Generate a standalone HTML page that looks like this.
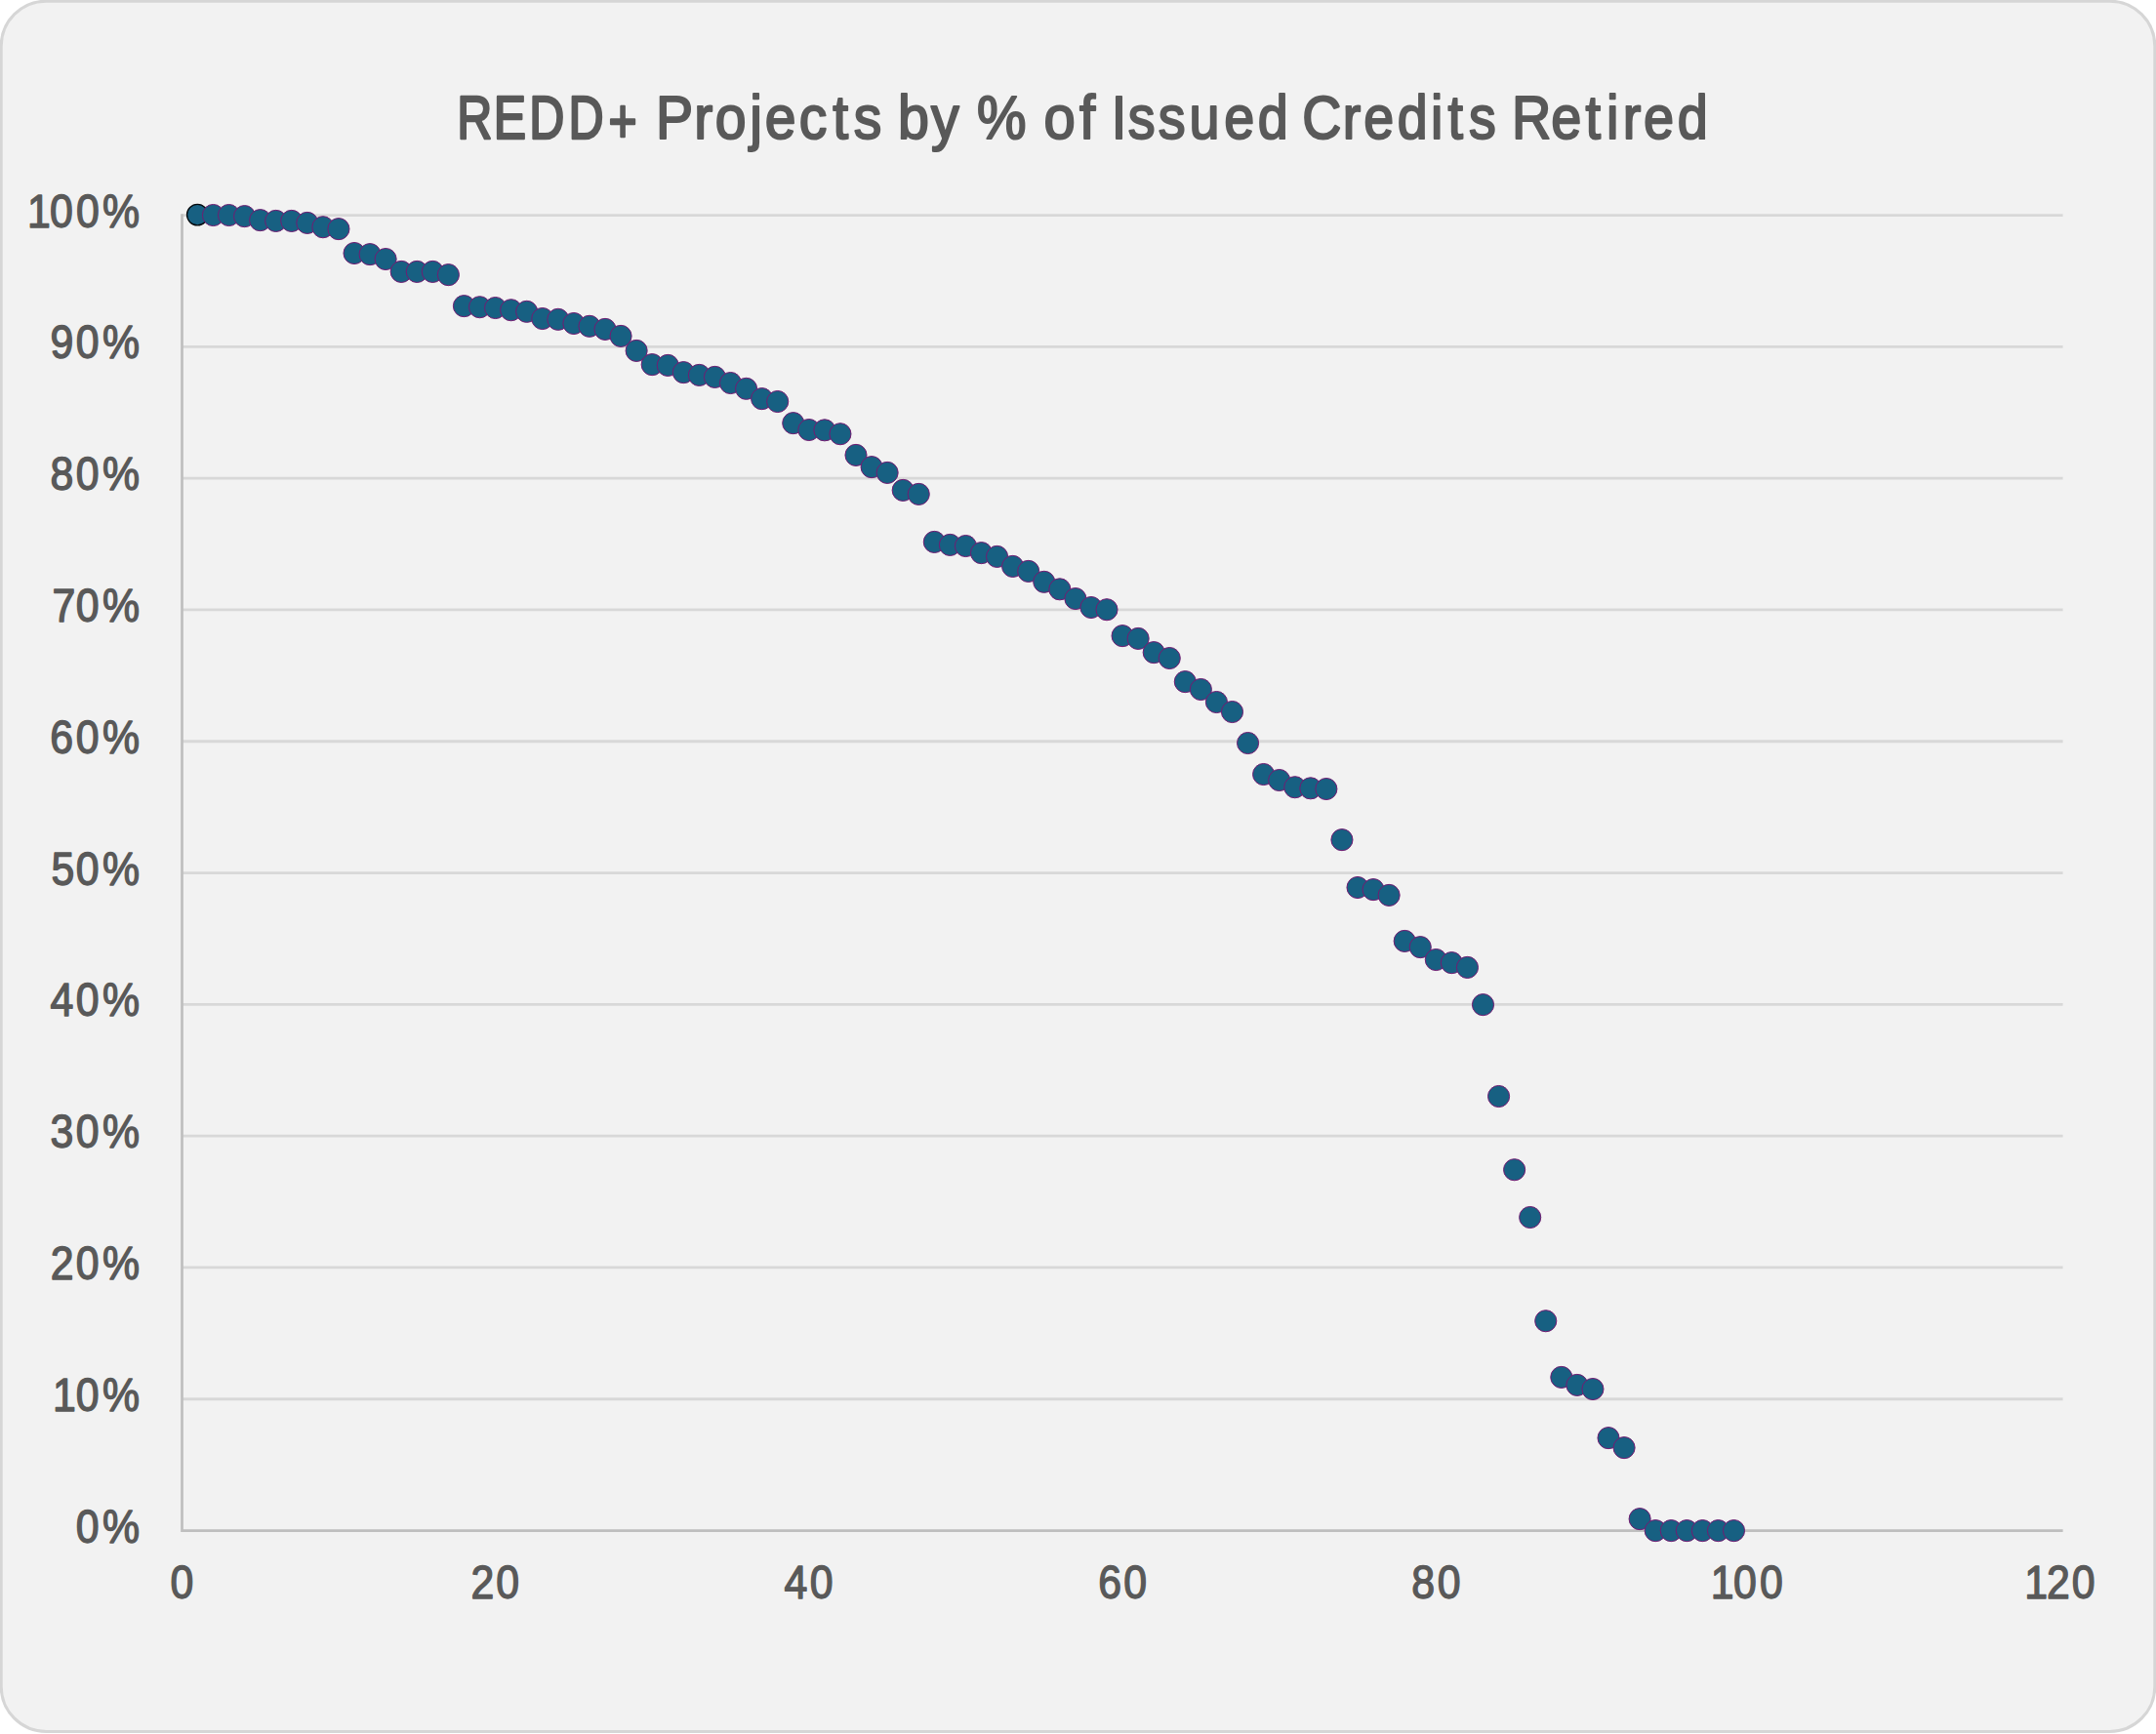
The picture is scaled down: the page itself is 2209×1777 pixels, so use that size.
<!DOCTYPE html>
<html lang="en"><head><meta charset="utf-8"><title>REDD+ Projects by % of Issued Credits Retired</title>
<style>
html,body{margin:0;padding:0;background:#fff;}
body{width:2209px;height:1777px;overflow:hidden;}
svg{display:block;}
text{font-family:"Liberation Sans",Arial,sans-serif;fill:#595959;stroke:#595959;stroke-linejoin:round;font-kerning:none;}
</style></head><body>
<svg width="2209" height="1777" viewBox="0 0 2209 1777">
<rect x="1.2" y="1.2" width="2206.6" height="1773.2" rx="46" ry="46" fill="#f2f2f2" stroke="#d6d6d6" stroke-width="3"/>

<g stroke="#d8d8d8" stroke-width="2.8" fill="none">
<line x1="186.5" y1="220.55" x2="2113.6" y2="220.55"/>
<line x1="186.5" y1="355.35" x2="2113.6" y2="355.35"/>
<line x1="186.5" y1="490.15" x2="2113.6" y2="490.15"/>
<line x1="186.5" y1="624.95" x2="2113.6" y2="624.95"/>
<line x1="186.5" y1="759.75" x2="2113.6" y2="759.75"/>
<line x1="186.5" y1="894.55" x2="2113.6" y2="894.55"/>
<line x1="186.5" y1="1029.35" x2="2113.6" y2="1029.35"/>
<line x1="186.5" y1="1164.15" x2="2113.6" y2="1164.15"/>
<line x1="186.5" y1="1298.95" x2="2113.6" y2="1298.95"/>
<line x1="186.5" y1="1433.75" x2="2113.6" y2="1433.75"/>
</g>
<g stroke="#bfbfbf" stroke-width="2.7" fill="none"><path d="M186.5 219.25V1568.55H2113.6"/></g>
<g>
<text transform="scale(0.8 1)" x="585.29 632.16 677.78 728.03 779.48" y="141.65 141.65 141.65 141.65 146.35" font-size="62.4" stroke-width="2.5">REDD+</text>
<text transform="scale(0.915 1)" x="734.56 777.29 800.84 839.65 856.64 894.88 932.56 955.97" y="141.65" font-size="62.4" stroke-width="2.1">Projects</text>
<text transform="scale(0.92 1)" x="999.88 1037.05" y="141.65" font-size="62.4" stroke-width="2.1">by</text>
<text transform="scale(0.91 1)" x="1100.12" y="141.65" font-size="62.4" stroke-width="2.1">%</text>
<text transform="scale(0.93 1)" x="1150.12 1189.23" y="141.65" font-size="62.4" stroke-width="2.1">of</text>
<text transform="scale(0.893 1)" x="1275.26 1294.23 1329.06 1364.38 1404.60 1443.26" y="141.65" font-size="62.4" stroke-width="2.1">Issued</text>
<text transform="scale(0.89 1)" x="1499.21 1545.75 1570.01 1608.80 1647.13 1666.82 1690.95" y="141.65" font-size="62.4" stroke-width="2.1">Credits</text>
<text transform="scale(0.895 1)" x="1730.77 1775.67 1815.00 1839.23 1857.72 1881.70 1920.39" y="141.65" font-size="62.4" stroke-width="2.1">Retired</text>
</g>
<g>
<text transform="scale(0.905 1)" x="30.90 56.41 86.13 115.93" y="232.55" font-size="47.3" stroke-width="1.4">100%</text>
<text transform="scale(0.905 1)" x="56.86 85.85 115.93" y="367.35" font-size="47.3" stroke-width="1.4">90%</text>
<text transform="scale(0.905 1)" x="56.85 85.85 115.93" y="502.15" font-size="47.3" stroke-width="1.4">80%</text>
<text transform="scale(0.905 1)" x="59.03 85.85 115.93" y="636.95" font-size="47.3" stroke-width="1.4">70%</text>
<text transform="scale(0.905 1)" x="56.69 85.85 115.93" y="771.75" font-size="47.3" stroke-width="1.4">60%</text>
<text transform="scale(0.905 1)" x="58.00 85.85 115.93" y="906.55" font-size="47.3" stroke-width="1.4">50%</text>
<text transform="scale(0.905 1)" x="57.00 85.85 115.93" y="1041.35" font-size="47.3" stroke-width="1.4">40%</text>
<text transform="scale(0.905 1)" x="56.99 85.85 115.93" y="1176.15" font-size="47.3" stroke-width="1.4">30%</text>
<text transform="scale(0.905 1)" x="57.12 85.85 115.93" y="1310.95" font-size="47.3" stroke-width="1.4">20%</text>
<text transform="scale(0.905 1)" x="59.79 85.85 115.93" y="1445.75" font-size="47.3" stroke-width="1.4">10%</text>
<text transform="scale(0.905 1)" x="85.85 115.93" y="1580.55" font-size="47.3" stroke-width="1.4">0%</text>
</g>
<g>
<text transform="scale(0.905 1)" x="192.92" y="1638.00" font-size="47.3" stroke-width="1.4">0</text>
<text transform="scale(0.905 1)" x="533.26 561.60" y="1638.00" font-size="47.3" stroke-width="1.4">20</text>
<text transform="scale(0.905 1)" x="887.94 916.74" y="1638.00" font-size="47.3" stroke-width="1.4">40</text>
<text transform="scale(0.905 1)" x="1243.26 1272.07" y="1638.00" font-size="47.3" stroke-width="1.4">60</text>
<text transform="scale(0.905 1)" x="1598.17 1627.23" y="1638.00" font-size="47.3" stroke-width="1.4">80</text>
<text transform="scale(0.905 1)" x="1936.86 1962.37 1992.21" y="1638.00" font-size="47.3" stroke-width="1.4">100</text>
<text transform="scale(0.905 1)" x="2291.89 2317.23 2345.69" y="1638.00" font-size="47.3" stroke-width="1.4">120</text>
</g>
<g fill="#176082" stroke="#741b72" stroke-width="1">
<circle cx="202.28" cy="220.12" r="10.75" stroke="#05090c" stroke-width="1.3"/>
<circle cx="218.44" cy="220.52" r="11.05"/>
<circle cx="234.51" cy="220.52" r="11.05"/>
<circle cx="250.57" cy="221.62" r="11.05"/>
<circle cx="266.63" cy="225.62" r="11.05"/>
<circle cx="282.69" cy="226.42" r="11.05"/>
<circle cx="298.76" cy="226.42" r="11.05"/>
<circle cx="314.82" cy="228.42" r="11.05"/>
<circle cx="330.88" cy="232.72" r="11.05"/>
<circle cx="346.94" cy="234.62" r="11.05"/>
<circle cx="363.01" cy="259.52" r="11.05"/>
<circle cx="379.07" cy="260.62" r="11.05"/>
<circle cx="395.13" cy="265.52" r="11.05"/>
<circle cx="411.19" cy="278.42" r="11.05"/>
<circle cx="427.26" cy="278.42" r="11.05"/>
<circle cx="443.32" cy="278.42" r="11.05"/>
<circle cx="459.38" cy="281.62" r="11.05"/>
<circle cx="475.44" cy="313.62" r="11.05"/>
<circle cx="491.51" cy="314.72" r="11.05"/>
<circle cx="507.57" cy="315.52" r="11.05"/>
<circle cx="523.63" cy="317.72" r="11.05"/>
<circle cx="539.69" cy="319.32" r="11.05"/>
<circle cx="555.76" cy="326.52" r="11.05"/>
<circle cx="571.82" cy="327.32" r="11.05"/>
<circle cx="587.88" cy="331.52" r="11.05"/>
<circle cx="603.94" cy="334.32" r="11.05"/>
<circle cx="620.00" cy="337.42" r="11.05"/>
<circle cx="636.07" cy="344.42" r="11.05"/>
<circle cx="652.13" cy="359.42" r="11.05"/>
<circle cx="668.19" cy="373.62" r="11.05"/>
<circle cx="684.25" cy="374.42" r="11.05"/>
<circle cx="700.32" cy="381.62" r="11.05"/>
<circle cx="716.38" cy="384.42" r="11.05"/>
<circle cx="732.44" cy="386.42" r="11.05"/>
<circle cx="748.50" cy="392.52" r="11.05"/>
<circle cx="764.57" cy="398.32" r="11.05"/>
<circle cx="780.63" cy="408.62" r="11.05"/>
<circle cx="796.69" cy="411.52" r="11.05"/>
<circle cx="812.75" cy="433.62" r="11.05"/>
<circle cx="828.82" cy="440.52" r="11.05"/>
<circle cx="844.88" cy="440.82" r="11.05"/>
<circle cx="860.94" cy="444.72" r="11.05"/>
<circle cx="877.00" cy="466.42" r="11.05"/>
<circle cx="893.07" cy="478.62" r="11.05"/>
<circle cx="909.13" cy="484.42" r="11.05"/>
<circle cx="925.19" cy="502.42" r="11.05"/>
<circle cx="941.25" cy="506.42" r="11.05"/>
<circle cx="957.32" cy="555.42" r="11.05"/>
<circle cx="973.38" cy="558.42" r="11.05"/>
<circle cx="989.44" cy="559.52" r="11.05"/>
<circle cx="1005.50" cy="566.62" r="11.05"/>
<circle cx="1021.56" cy="570.42" r="11.05"/>
<circle cx="1037.63" cy="580.42" r="11.05"/>
<circle cx="1053.69" cy="585.42" r="11.05"/>
<circle cx="1069.75" cy="596.32" r="11.05"/>
<circle cx="1085.81" cy="603.82" r="11.05"/>
<circle cx="1101.88" cy="613.52" r="11.05"/>
<circle cx="1117.94" cy="622.52" r="11.05"/>
<circle cx="1134.00" cy="624.72" r="11.05"/>
<circle cx="1150.06" cy="651.62" r="11.05"/>
<circle cx="1166.13" cy="654.42" r="11.05"/>
<circle cx="1182.19" cy="668.62" r="11.05"/>
<circle cx="1198.25" cy="674.52" r="11.05"/>
<circle cx="1214.31" cy="698.62" r="11.05"/>
<circle cx="1230.38" cy="706.52" r="11.05"/>
<circle cx="1246.44" cy="719.52" r="11.05"/>
<circle cx="1262.50" cy="729.52" r="11.05"/>
<circle cx="1278.56" cy="761.52" r="11.05"/>
<circle cx="1294.63" cy="793.52" r="11.05"/>
<circle cx="1310.69" cy="799.52" r="11.05"/>
<circle cx="1326.75" cy="806.72" r="11.05"/>
<circle cx="1342.81" cy="807.82" r="11.05"/>
<circle cx="1358.88" cy="808.52" r="11.05"/>
<circle cx="1374.94" cy="860.62" r="11.05"/>
<circle cx="1391.00" cy="909.52" r="11.05"/>
<circle cx="1407.06" cy="911.62" r="11.05"/>
<circle cx="1423.12" cy="917.42" r="11.05"/>
<circle cx="1439.19" cy="964.42" r="11.05"/>
<circle cx="1455.25" cy="970.62" r="11.05"/>
<circle cx="1471.31" cy="983.52" r="11.05"/>
<circle cx="1487.37" cy="986.62" r="11.05"/>
<circle cx="1503.44" cy="991.42" r="11.05"/>
<circle cx="1519.50" cy="1029.62" r="11.05"/>
<circle cx="1535.56" cy="1123.52" r="11.05"/>
<circle cx="1551.62" cy="1198.72" r="11.05"/>
<circle cx="1567.69" cy="1247.52" r="11.05"/>
<circle cx="1583.75" cy="1353.72" r="11.05"/>
<circle cx="1599.81" cy="1411.42" r="11.05"/>
<circle cx="1615.87" cy="1419.42" r="11.05"/>
<circle cx="1631.94" cy="1423.52" r="11.05"/>
<circle cx="1648.00" cy="1473.62" r="11.05"/>
<circle cx="1664.06" cy="1483.62" r="11.05"/>
<circle cx="1680.12" cy="1556.62" r="11.05"/>
<circle cx="1696.19" cy="1568.62" r="11.05"/>
<circle cx="1712.25" cy="1568.62" r="11.05"/>
<circle cx="1728.31" cy="1568.62" r="11.05"/>
<circle cx="1744.37" cy="1568.62" r="11.05"/>
<circle cx="1760.44" cy="1568.62" r="11.05"/>
<circle cx="1776.50" cy="1568.62" r="11.05"/>
</g>
</svg>
</body></html>
